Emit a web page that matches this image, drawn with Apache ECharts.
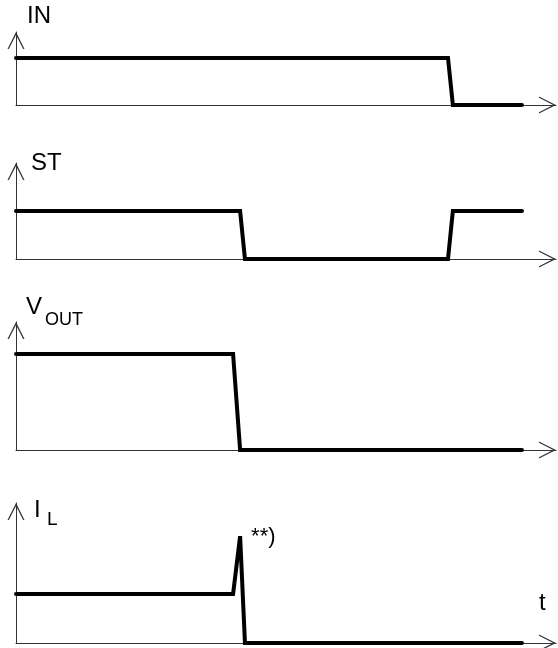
<!DOCTYPE html>
<html>
<head>
<meta charset="utf-8">
<title>Timing diagram</title>
<script src="https://cdn.jsdelivr.net/npm/echarts@6/dist/echarts.min.js"></script>
<style>
  html, body { margin: 0; padding: 0; background: #fff; }
  #chart { width: 558px; height: 648px; }
</style>
</head>
<body>
<div id="chart"></div>
<script>
// time points (0..100 along the t axis) and logic levels of each trace
const inT = [0, 80.0, 80.9, 93.7]
const inV = [1, 1, 0, 0]
const stT = [0, 41.5, 42.4, 80.0, 80.9, 93.7]
const stV = [1, 1, 0, 0, 1, 1]
const voutT = [0, 40.2, 41.5, 93.7]
const voutV = [1, 1, 0, 0]
const ilT = [0, 40.2, 41.5, 42.4, 93.7]
const ilV = [1, 1, 2.18, 0, 0]

const zip = (t, v) => t.map((x, i) => [x, v[i]])

// open arrow head for the axes
const arrow = 'path://M0,10 L5,0 L10,10 L9.2,10 L5,1.7 L0.8,10 Z'
const axisLine = {
  show: true,
  symbol: ['none', arrow],
  symbolSize: [19, 17],
  symbolOffset: [0, -8.5],
  lineStyle: { color: '#333', width: 1 }
}

// panel layout: top of y axis, baseline, y axis max
const panels = [
  { top: 32, base: 105, ymax: 1.553 },
  { top: 163, base: 259, ymax: 2.0 },
  { top: 322, base: 450, ymax: 1.333 },
  { top: 503, base: 643, ymax: 2.857 }
]

const traces = [zip(inT, inV), zip(stT, stV), zip(voutT, voutV), zip(ilT, ilV)]

const grid = panels.map(p => ({ left: 16, width: 540, top: p.top, height: p.base - p.top }))
const xAxis = panels.map((p, i) => ({
  type: 'value', gridIndex: i, min: 0, max: 100,
  axisLine: axisLine, axisTick: { show: false }, axisLabel: { show: false }, splitLine: { show: false }
}))
const yAxis = panels.map((p, i) => ({
  type: 'value', gridIndex: i, min: 0, max: p.ymax,
  axisLine: axisLine, axisTick: { show: false }, axisLabel: { show: false }, splitLine: { show: false }
}))

const font = 'Liberation Sans, Arial, sans-serif'

const series = traces.map((d, i) => ({
  type: 'line',
  xAxisIndex: i,
  yAxisIndex: i,
  data: d,
  showSymbol: true,
  symbolSize: 0,
  silent: true,
  lineStyle: { color: '#000', width: 4, cap: 'round', join: 'miter' },
  z: 5
}))

// "**)" note at the current spike
series[3].data = zip(ilT, ilV).map((pt, i) => i === 2
  ? { value: pt, label: { show: true, formatter: '**)', position: 'right', offset: [6, 1], color: '#000', fontSize: 22, fontFamily: font } }
  : pt)

const label = (text, x, y, size) => ({
  type: 'text', left: x, top: y - size / 2,
  style: { text: text, fill: '#000', fontSize: size, fontFamily: font }
})

const chart = echarts.init(document.getElementById('chart'))
chart.setOption({
  animation: false,
  grid: grid,
  xAxis: xAxis,
  yAxis: yAxis,
  series: series,
  graphic: [
    label('IN', 27, 16, 24),
    label('ST', 31, 163, 24),
    label('V', 26, 307, 24),
    label('OUT', 45, 320, 18),
    label('I', 34, 510, 24),
    label('L', 47, 520, 19),
    label('t', 539, 603, 24)
  ]
})
</script>
</body>
</html>
